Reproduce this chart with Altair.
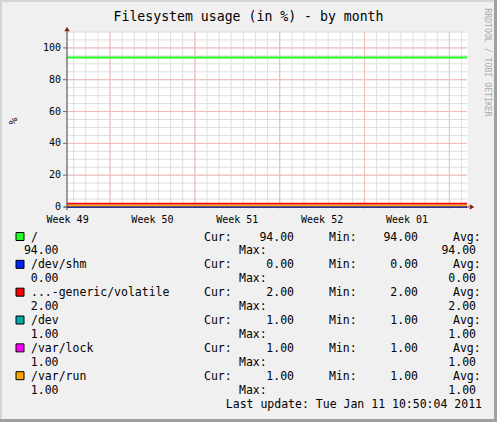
import altair as alt
import pandas as pd

# ---------------- data ----------------
series_names = ["/", "/dev/shm", "...-generic/volatile", "/dev", "/var/lock", "/var/run"]
series_colors = ["#22ff22", "#0022ff", "#ff0000", "#00aaaa", "#ff00ff", "#ffa500"]
series_times = ["2010-12-09 10:50:04", "2011-01-11 10:50:04"]
root_values = [94.0, 94.0]
shm_values = [0.0, 0.0]
volatile_values = [2.0, 2.0]
dev_values = [1.0, 1.0]
lock_values = [1.0, 1.0]
run_values = [1.0, 1.0]
series_values = [root_values, shm_values, volatile_values, dev_values, lock_values, run_values]

cur_vals = [94.00, 0.00, 2.00, 1.00, 1.00, 1.00]
min_vals = [94.00, 0.00, 2.00, 1.00, 1.00, 1.00]
avg_vals = [94.00, 0.00, 2.00, 1.00, 1.00, 1.00]
max_vals = [94.00, 0.00, 2.00, 1.00, 1.00, 1.00]

week_labels = ["Week 49", "Week 50", "Week 51", "Week 52", "Week 01"]
week_label_times = ["2010-12-09 12:00", "2010-12-16 12:00", "2010-12-23 12:00",
                    "2010-12-30 12:00", "2011-01-06 12:00"]
week_start_times = ["2010-12-13", "2010-12-20", "2010-12-27", "2011-01-03", "2011-01-10"]
y_tick_values = [0, 20, 40, 60, 80, 100]
y_domain = [0, 110]

title_text = "Filesystem usage (in %) - by month"
y_title = "%"
last_update = "Last update: Tue Jan 11 10:50:04 2011"
watermark = "RRDTOOL / TOBI OETIKER"

# ---------------- layout / style ----------------
MONO = "DejaVu Sans Mono"
W, H = 400, 175
LEFT, TOP = 67, 32
TOTAL_W, TOTAL_H = 497, 422
MINOR = "#DEDEDE"
MAJOR = "#F4B8B8"
AXIS = "#404040"
ARROW = "#8B1A1A"


def ms(s):
    return int(pd.Timestamp(s).value // 10**6)


t0, t1 = ms(series_times[0]), ms(series_times[1])
xs = alt.Scale(domain=[t0, t1], nice=False, zero=False)
ys = alt.Scale(domain=y_domain, nice=False, zero=False)

# grid positions
minor_x = [ms(d) for d in pd.date_range("2010-12-10", "2011-01-11", freq="D")]
major_x = [ms(d) for d in week_start_times]
minor_y = list(range(5, 111, 5))
major_y = y_tick_values[1:]

one = pd.DataFrame({"k": [0]})

# frame (3D border of rrdtool)
frame = pd.DataFrame({
    "x1": [-LEFT, -LEFT, TOTAL_W - 3 - LEFT, -LEFT],
    "x2": [-LEFT + 2, TOTAL_W - LEFT, TOTAL_W - LEFT, TOTAL_W - LEFT],
    "y1": [-TOP, -TOP, -TOP, TOTAL_H - 3 - TOP],
    "y2": [TOTAL_H - TOP, -TOP + 2, TOTAL_H - TOP, TOTAL_H - TOP],
    "c": ["#D4D4D4", "#D4D4D4", "#A0A0A0", "#A0A0A0"],
})
frame_layer = alt.Chart(frame).mark_rect().encode(
    x=alt.X("x1:Q", scale=None, axis=None), x2="x2:Q",
    y=alt.Y("y1:Q", scale=None, axis=None), y2="y2:Q",
    fill=alt.Color("c:N", scale=None),
)

minor_v = alt.Chart(pd.DataFrame({"t": minor_x})).mark_rule(color=MINOR, strokeWidth=1).encode(
    x=alt.X("t:Q", scale=xs, axis=None), y=alt.value(0), y2=alt.value(H))
major_v = alt.Chart(pd.DataFrame({"t": major_x})).mark_rule(color=MAJOR, strokeWidth=1).encode(
    x=alt.X("t:Q", scale=xs, axis=None), y=alt.value(0), y2=alt.value(H + 2))
minor_h = alt.Chart(pd.DataFrame({"v": minor_y})).mark_rule(color=MINOR, strokeWidth=1).encode(
    y=alt.Y("v:Q", scale=ys, axis=None), x=alt.value(0), x2=alt.value(W))
major_h = alt.Chart(pd.DataFrame({"v": major_y})).mark_rule(color=MAJOR, strokeWidth=1).encode(
    y=alt.Y("v:Q", scale=ys, axis=None), x=alt.value(0), x2=alt.value(W))

series_layers = []
for vals, col in zip(series_values, series_colors):
    df = pd.DataFrame({"t": [ms(s) for s in series_times], "value": vals})
    series_layers.append(
        alt.Chart(df).mark_line(strokeWidth=2, color=col).encode(
            x=alt.X("t:Q", scale=xs, axis=None),
            y=alt.Y("value:Q", scale=ys, axis=None))
    )

# axes drawn by hand (rrdtool style)
y_domain_line = alt.Chart(one).mark_rule(color=AXIS, strokeWidth=1).encode(
    x=alt.value(0), y=alt.value(-1), y2=alt.value(H + 3))
x_domain_line = alt.Chart(one).mark_rule(color=AXIS, strokeWidth=1).encode(
    y=alt.value(H), x=alt.value(-3), x2=alt.value(W + 2))
tick_df = pd.DataFrame({"v": y_tick_values})
y_ticks = alt.Chart(tick_df).mark_rule(color="#707070", strokeWidth=1).encode(
    y=alt.Y("v:Q", scale=ys, axis=None), x=alt.value(-4), x2=alt.value(0))
y_labels = alt.Chart(tick_df).mark_text(font=MONO, fontSize=10, color="#000",
                                        align="right", baseline="middle").encode(
    y=alt.Y("v:Q", scale=ys, axis=None), x=alt.value(-6), text="v:Q")
y_title_layer = alt.Chart(one).mark_text(text=y_title, font=MONO, fontSize=11, color="#000",
                                         angle=270, align="center", baseline="middle").encode(
    x=alt.value(14 - LEFT), y=alt.value(121 - TOP))

# x labels (weeks)
week_df = pd.DataFrame({"t": [ms(s) for s in week_label_times], "label": week_labels})
week_layer = alt.Chart(week_df).mark_text(font=MONO, fontSize=10, color="#000",
                                          align="center", baseline="alphabetic").encode(
    x=alt.X("t:Q", scale=xs, axis=None), y=alt.value(191.3), text="label:N")

# arrows
arrow_up = alt.Chart(one).mark_point(shape="triangle-up", filled=True, size=28,
                                     color=ARROW, opacity=1).encode(
    x=alt.value(0), y=alt.value(-3))
arrow_right = alt.Chart(one).mark_point(shape="triangle-right", filled=True, size=28,
                                        color=ARROW, opacity=1).encode(
    x=alt.value(W + 5), y=alt.value(H))

# title & watermark
title_layer = alt.Chart(one).mark_text(text=title_text, font=MONO, fontSize=13.2, color="#000",
                                       align="center", baseline="alphabetic").encode(
    x=alt.value(TOTAL_W / 2 - LEFT), y=alt.value(21 - TOP))
wm_layer = alt.Chart(one).mark_text(text=watermark, font=MONO, fontSize=8.2, color="#ABABAB",
                                    angle=90, align="center", baseline="middle").encode(
    x=alt.value(486.5 - LEFT), y=alt.value(62.5 - TOP))

# legend
ROW0 = 240.5
ROWH = 13.92


def fmt(v):
    return f"{v:.2f}"


left_rows, right_rows, swatches = [], [], []
for i, name in enumerate(series_names):
    r = 2 * i
    left_rows += [(name, 31, r), ("Cur:", 204, r), ("Min:", 329, r), ("Avg:", 453, r),
                  ("Max:", 239, r + 1)]
    right_rows += [(fmt(cur_vals[i]), 294, r), (fmt(min_vals[i]), 418, r),
                   (fmt(avg_vals[i]), 58.5, r + 1), (fmt(max_vals[i]), 476, r + 1)]
    b = ROW0 + ROWH * r
    swatches.append((16, 24, b - 8, b, series_colors[i]))
right_rows.append((last_update, 482, 12))


def to_df(rows):
    return pd.DataFrame({
        "txt": [r[0] for r in rows],
        "px": [r[1] - LEFT for r in rows],
        "py": [ROW0 + ROWH * r[2] - TOP for r in rows],
    })


legend_left = alt.Chart(to_df(left_rows)).mark_text(
    align="left", baseline="alphabetic", font=MONO, fontSize=11.5, color="#000").encode(
    x=alt.X("px:Q", scale=None, axis=None), y=alt.Y("py:Q", scale=None, axis=None), text="txt:N")
legend_right = alt.Chart(to_df(right_rows)).mark_text(
    align="right", baseline="alphabetic", font=MONO, fontSize=11.5, color="#000").encode(
    x=alt.X("px:Q", scale=None, axis=None), y=alt.Y("py:Q", scale=None, axis=None), text="txt:N")

sw_df = pd.DataFrame({
    "x1": [s[0] - LEFT for s in swatches], "x2": [s[1] - LEFT for s in swatches],
    "y1": [s[2] - TOP for s in swatches], "y2": [s[3] - TOP for s in swatches],
    "c": [s[4] for s in swatches],
})
sw_layer = alt.Chart(sw_df).mark_rect(stroke="#000", strokeWidth=1).encode(
    x=alt.X("x1:Q", scale=None, axis=None), x2="x2:Q",
    y=alt.Y("y1:Q", scale=None, axis=None), y2="y2:Q",
    fill=alt.Color("c:N", scale=None),
)

chart = alt.layer(
    frame_layer, minor_v, minor_h, major_v, major_h, *series_layers,
    y_domain_line, x_domain_line, y_ticks, y_labels, y_title_layer,
    arrow_up, arrow_right, week_layer, title_layer, wm_layer,
    sw_layer, legend_left, legend_right,
).properties(
    width=W, height=H,
    autosize=alt.AutoSizeParams(type="none"),
    padding={"left": LEFT, "top": TOP, "right": TOTAL_W - LEFT - W, "bottom": TOTAL_H - TOP - H},
    background="#F0F0F0",
).configure_view(fill="#FFFFFF", stroke="transparent")

chart.save("out.html", embed_options={"renderer": "svg", "actions": False})
